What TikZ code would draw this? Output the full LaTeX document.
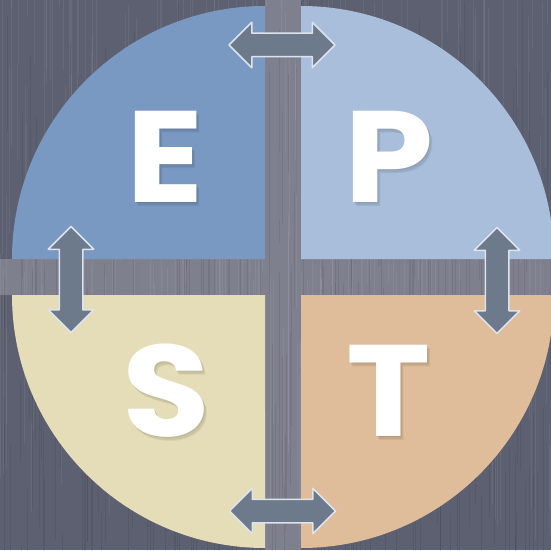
\documentclass[tikz,border=0pt]{standalone}
\usepackage{fontspec}
\setmainfont{Poppins}
\usetikzlibrary{shapes.arrows}
\definecolor{woodbg}{HTML}{5D6070}
\definecolor{woodgap}{HTML}{7F808E}
\definecolor{quadE}{HTML}{7A99C2}
\definecolor{quadP}{HTML}{A9BEDB}
\definecolor{quadS}{HTML}{E4DDB7}
\definecolor{quadT}{HTML}{E0BD9A}
\definecolor{swapfill}{HTML}{6D7A8C}
\definecolor{swapedge}{HTML}{DDE3EC}
\begin{document}
\begin{tikzpicture}[x=1pt,y=1pt,line join=round,
    letter/.style={text=white,inner sep=0pt,font=\fontsize{130}{130}\selectfont\bfseries},
    lettershade/.style={letter,text=black,text opacity=0.06},
    swap/.style={double arrow,draw=swapedge,line width=1.5pt,fill=swapfill,
      minimum height=106pt,minimum width=44pt,double arrow head extend=11pt,
      double arrow head indent=0pt,inner xsep=0pt,inner ysep=11pt}]
  \useasboundingbox (0,0) rectangle (551,550);

  % wood background and the cross of lighter planks
  \fill[woodbg] (0,0) rectangle (551,550);
  \fill[woodgap] (265,0) rectangle (301,550);
  \fill[woodgap] (0,255) rectangle (551,291);
  % grain
  \pgfmathsetseed{7}
  \foreach \i in {1,...,260}{
    \pgfmathsetmacro\gx{551*rnd}
    \pgfmathsetmacro\gy{550*rnd}
    \pgfmathsetmacro\gl{60+200*rnd}
    \draw[white,opacity=0.06,line width=0.5pt] (\gx,\gy) -- ++(0,\gl);
    \pgfmathsetmacro\gx{551*rnd}
    \pgfmathsetmacro\gy{550*rnd}
    \draw[black,opacity=0.07,line width=0.5pt] (\gx,\gy) -- ++(0,-\gl);
  }

  % four quarter discs
  \fill[quadE] (265,291) -- ++(180:253) arc[start angle=180,end angle=90,radius=253] -- cycle;
  \fill[quadP] (301,291) -- ++(90:253) arc[start angle=90,end angle=0,radius=253] -- cycle;
  \fill[quadS] (265,255) -- ++(180:253) arc[start angle=180,end angle=270,radius=253] -- cycle;
  \fill[quadT] (301,255) -- ++(0:253) arc[start angle=0,end angle=-90,radius=253] -- cycle;

  % letters with a soft shadow
  \foreach \name/\cx/\cy in {E/165.5/393.5,P/389.5/393.5,S/166.5/159.5,T/389/159.5}{
    \foreach \d in {1,2,3}
      \node[lettershade] at (\cx+\d,\cy-1.5*\d) {\scalebox{1.1}[1]{\name}};
    \node[letter] (\name) at (\cx,\cy) {\scalebox{1.1}[1]{\name}};
  }

  % double arrows across the gaps
  \node[swap] (swap-top) at (282,505) {};
  \node[swap] (swap-bottom) at (282.5,39) {};
  \node[swap,rotate=90] (swap-left) at (71,270.5) {};
  \node[swap,rotate=90] (swap-right) at (497,269.5) {};
\end{tikzpicture}
\end{document}
